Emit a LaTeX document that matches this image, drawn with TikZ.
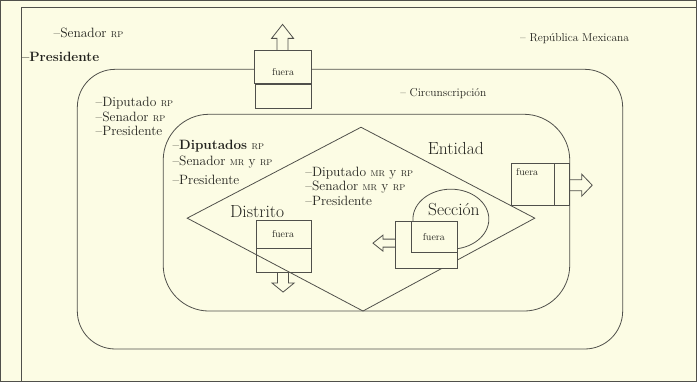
\documentclass[tikz,border=0pt]{standalone}
\usetikzlibrary{shapes.geometric}
\definecolor{bg}{RGB}{252,252,228}
\definecolor{ln}{RGB}{80,80,75}
\definecolor{tx}{RGB}{35,35,30}
\newcommand{\sm}[1]{{\fontsize{8.5}{9}\selectfont #1}}
\begin{document}
\begin{tikzpicture}[x=1pt,y=-1pt,
  every path/.style={draw=ln,line width=0.8pt},
  lbl/.style={anchor=west,inner sep=0,text=tx,font=\fontsize{13.5}{15}\selectfont},
  big/.style={inner sep=0,text=tx,font=\fontsize{17.5}{19}\selectfont},
  fu/.style={inner sep=0,text=tx,font=\fontsize{10}{11}\selectfont},
  blk/.style={draw=ln,line width=0.8pt}]
\fill[bg,draw=none] (0,0) rectangle (697,381);
\useasboundingbox (0,0) rectangle (697,381);
% outer frame
\coordinate (f1) at (697,7);
\coordinate (f2) at (21,7);
\coordinate (f3) at (21,381);
\draw (f1) -- (f2) -- (f3);
% circunscripcion
\draw[rounded corners=38pt] (77,69) rectangle (623,349);
% entidad rect
\draw[rounded corners=46pt] (163,114) rectangle (570,311);
% diamond
\coordinate (dt) at (361,127);
\coordinate (dl) at (187,218);
\coordinate (dr) at (535,218);
\coordinate (db) at (363,311);
\draw (dt) -- (dr) -- (db) -- (dl) -- cycle;
% seccion ellipse
\node[draw=ln,line width=0.8pt,ellipse,minimum width=76pt,minimum height=60pt,inner sep=0] (sec) at (451,219) {};
% top box
\node[blk,fill=bg,minimum width=57pt,minimum height=33pt,inner sep=0] (tb) at (283,67) {};
\draw[fill=bg] (255,84) rectangle (311,108);
\node[fu] (tbl) at (283,72) {fuera};
\draw (277,50.5) -- (277,38) -- (271.5,38) -- (282.5,24) -- (293.5,38) -- (288,38) -- (288,50.5);
% distrito box
\draw (256,220) rectangle (311,272);
\draw (256,248) -- (311,248);
\node[fu] (dbl) at (283,234) {fuera};
\draw (277.5,272) -- (277.5,283) -- (272,283) -- (283,292) -- (294,283) -- (288.5,283) -- (288.5,272);
% seccion boxes
\draw[fill=bg] (395,221) rectangle (458,268);
\draw (411,221) rectangle (458,252);
\node[fu] (sbl) at (434,237) {fuera};
\draw (395,239) -- (383,239) -- (383,235) -- (373,243) -- (383,251) -- (383,247) -- (395,247);
% entidad box
\draw (512,163) rectangle (570,205);
\draw (555,163) -- (555,205);
\node[fu,anchor=west] (ebl) at (516,172) {fuera};
\draw (570,179.5) -- (582,179.5) -- (582,174) -- (592.5,185) -- (582,196) -- (582,190.5) -- (570,190.5);
% texts
\node[lbl] (t1) at (53,33) {–Senador \sm{RP}};
\node[lbl] (t2) at (21,57) {\textbf{–Presidente}};
\node[lbl,font=\fontsize{11.5}{13}\selectfont] (t3) at (520,38) {– República Mexicana};
\node[lbl,font=\fontsize{11.5}{13}\selectfont] (t4) at (400,93) {– Circunscripción};
\node[lbl] (a1) at (95,103) {–Diputado \sm{RP}};
\node[lbl] (a2) at (95,117) {–Senador \sm{RP}};
\node[lbl] (a3) at (95,131) {–Presidente};
\node[lbl] (b1) at (172,146) {–\textbf{Diputados} \sm{RP}};
\node[lbl] (b2) at (172,162) {–Senador \sm{MR} y \sm{RP}};
\node[lbl] (b3) at (172,180) {–Presidente};
\node[lbl] (c1) at (305,173) {–Diputado \sm{MR} y \sm{RP}};
\node[lbl] (c2) at (305,187) {–Senador \sm{MR} y \sm{RP}};
\node[lbl] (c3) at (305,201) {–Presidente};
\node[big] (ent) at (456,148) {Entidad};
\node[big] (secl) at (454,209) {Sección};
\node[big] (dis) at (257,211) {Distrito};
\end{tikzpicture}
\end{document}
